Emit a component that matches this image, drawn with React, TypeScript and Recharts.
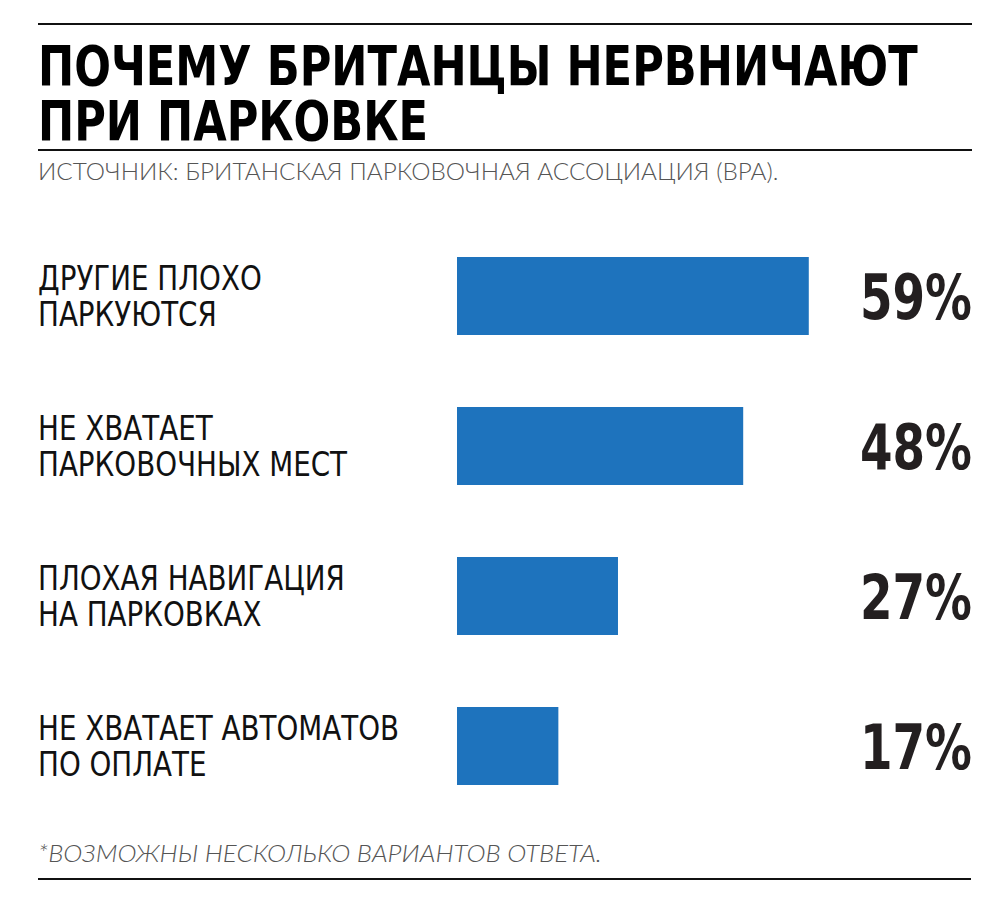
import React, { useLayoutEffect, useRef, useState } from 'react'
import { BarChart, Bar, XAxis, YAxis, LabelList } from 'recharts'

const categories = [
  ['ДРУГИЕ ПЛОХО', 'ПАРКУЮТСЯ'],
  ['НЕ ХВАТАЕТ', 'ПАРКОВОЧНЫХ МЕСТ'],
  ['ПЛОХАЯ НАВИГАЦИЯ', 'НА ПАРКОВКАХ'],
  ['НЕ ХВАТАЕТ АВТОМАТОВ', 'ПО ОПЛАТЕ'],
]
const shares = [59, 48, 27, 17]

const titleLines = ['ПОЧЕМУ БРИТАНЦЫ НЕРВНИЧАЮТ', 'ПРИ ПАРКОВКЕ']
const sourceText = 'ИСТОЧНИК: БРИТАНСКАЯ ПАРКОВОЧНАЯ АССОЦИАЦИЯ (BPA).'
const noteText = '*ВОЗМОЖНЫ НЕСКОЛЬКО ВАРИАНТОВ ОТВЕТА.'

const data = categories.map((lines, i) => ({ name: lines.join('\n'), value: shares[i] }))

const narrow = "'Liberation Sans Narrow', 'DejaVu Sans Condensed', 'Roboto', sans-serif"
const BLUE = '#1e73bd'

// squeezes a text horizontally to a given width
function FitText({ x, y, width, children, ...rest }: any) {
  const ref = useRef<SVGTextElement>(null)
  const [sx, setSx] = useState(1)
  useLayoutEffect(() => {
    if (ref.current) {
      const w = ref.current.getComputedTextLength()
      if (w > 0) setSx(width / w)
    }
  }, [width, children])
  return (
    <text ref={ref} x={0} y={0} transform={`translate(${x}, ${y}) scale(${sx}, 1)`} {...rest}>
      {children}
    </text>
  )
}

// two-line html title, squeezed so the longest line fits the width
function Title({ left, top, width }: any) {
  const ref = useRef<HTMLDivElement>(null)
  const [sx, setSx] = useState(1)
  useLayoutEffect(() => {
    if (ref.current) {
      const w = ref.current.offsetWidth
      if (w > 0) setSx(width / w)
    }
  }, [width])
  return (
    <div
      ref={ref}
      style={{
        position: 'absolute',
        left,
        top,
        display: 'inline-block',
        whiteSpace: 'nowrap',
        fontFamily: narrow,
        fontWeight: 'bold',
        fontSize: 56,
        lineHeight: '55px',
        color: '#000',
        transform: `scaleX(${sx})`,
        transformOrigin: '0 0',
      }}
    >
      {titleLines[0]}
      <br />
      {titleLines[1]}
    </div>
  )
}

const CategoryTick = (props: any) => {
  const { y, payload } = props
  const lines = String(payload.value).split('\n')
  return (
    <g transform={`translate(38, ${y}) scale(0.935, 1)`}>
      {lines.map((line: string, i: number) => (
        <text key={i} x={0} y={-6 + i * 36} fontFamily={narrow} fontSize={33} fill="#111">
          {line}
        </text>
      ))}
    </g>
  )
}

const PercentLabel = (props: any) => {
  const { y, height, value } = props
  return (
    <FitText
      x={860}
      y={y + height / 2 + 23}
      width={112}
      fontFamily={narrow}
      fontWeight="bold"
      fontSize={62}
      fill="#231f20"
    >
      {`${value}%`}
    </FitText>
  )
}

export default function App() {
  return (
    <div style={{ position: 'relative', width: 1000, height: 905, background: '#fff' }}>
      <style>{'body{margin:0}'}</style>
      <BarChart
        width={1000}
        height={905}
        data={data}
        layout="vertical"
        margin={{ top: 221, right: 66, bottom: 84, left: 0 }}
        style={{ position: 'absolute', left: 0, top: 0 }}
      >
        <XAxis type="number" domain={[0, 80]} hide height={0} />
        <YAxis
          type="category"
          dataKey="name"
          width={457}
          axisLine={false}
          tickLine={false}
          tick={<CategoryTick />}
          interval={0}
        />
        <Bar dataKey="value" fill={BLUE} barSize={78} isAnimationActive={false}>
          <LabelList dataKey="value" content={<PercentLabel />} />
        </Bar>
      </BarChart>
      <svg
        width={1000}
        height={905}
        style={{ position: 'absolute', left: 0, top: 0, pointerEvents: 'none' }}
      >
        <line x1={38} x2={972} y1={24} y2={24} stroke="#111" strokeWidth={2} />
        <line x1={38} x2={972} y1={150} y2={150} stroke="#111" strokeWidth={2} />
        <FitText
          x={38}
          y={180}
          width={741}
          fontFamily="Lato, 'Open Sans', sans-serif"
          fontWeight={300}
          fontSize={23}
          fill="#555"
        >
          {sourceText}
        </FitText>
        <FitText
          x={38}
          y={862}
          width={564}
          fontFamily="Lato, 'Open Sans', sans-serif"
          fontStyle="italic"
          fontWeight={300}
          fontSize={23}
          fill="#555"
        >
          {noteText}
        </FitText>
        <line x1={38} x2={971} y1={879} y2={879} stroke="#111" strokeWidth={2} />
      </svg>
      <Title left={38} top={38} width={880} />
    </div>
  )
}
